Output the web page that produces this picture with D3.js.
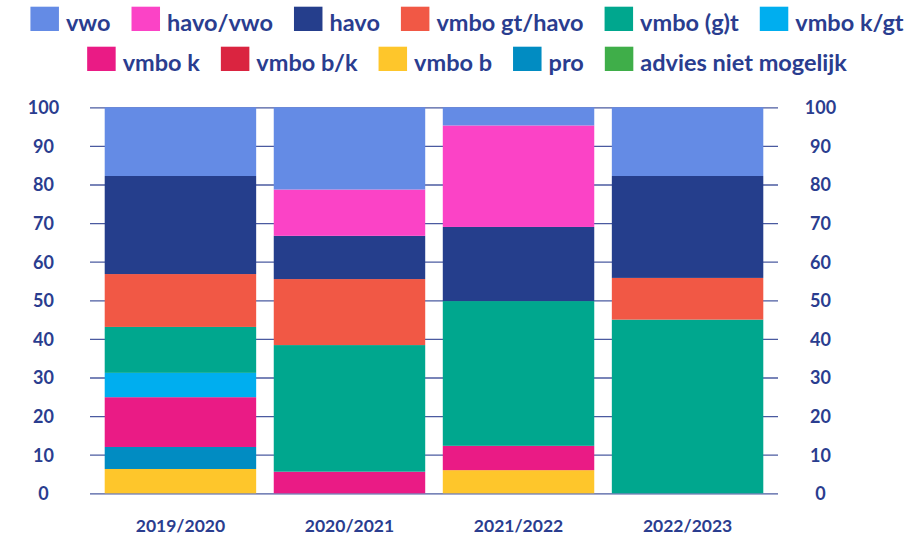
<!DOCTYPE html>
<html>
<head>
<meta charset="utf-8">
<script src="https://cdn.jsdelivr.net/npm/d3@7"></script>
<style>
  html, body { margin: 0; padding: 0; background: #ffffff; }
  svg { display: block; }
  text { font-family: Lato, "Open Sans", sans-serif; font-weight: 700; fill: #2a3d8f; }
</style>
</head>
<body>
<svg id="chart" width="912" height="539"></svg>
<script>
// ---- data ----
const years = ["2019/2020", "2020/2021", "2021/2022", "2022/2023"];
const legendOrder = ["vwo", "havo/vwo", "havo", "vmbo gt/havo", "vmbo (g)t", "vmbo k/gt",
                     "vmbo k", "vmbo b/k", "vmbo b", "pro", "advies niet mogelijk"];
const legendRows = [6, 5]; // items per legend row
const stackOrder = ["advies niet mogelijk", "vmbo b", "pro", "vmbo b/k", "vmbo k", "vmbo k/gt",
                    "vmbo (g)t", "vmbo gt/havo", "havo", "havo/vwo", "vwo"];
const colors = ["#648be5", "#fb43c6", "#253e8c", "#f15845", "#00a78e", "#00aeef",
                "#ea1b85", "#da2440", "#fec62b", "#018cc2", "#3fae49"];
// values per category, one per year
const vwo          = [17.8, 21.3,  4.7, 17.8];
const havoVwo      = [ 0.0, 12.0, 26.3,  0.0];
const havo         = [25.4, 11.2, 19.2, 26.4];
const vmboGtHavo   = [13.7, 17.1,  0.0, 10.8];
const vmboGt       = [11.9, 32.8, 37.5, 45.0];
const vmboKGt      = [ 6.3,  0.0,  0.0,  0.0];
const vmboK        = [12.9,  5.6,  6.3,  0.0];
const vmboBK       = [ 0.0,  0.0,  0.0,  0.0];
const vmboB        = [ 6.3,  0.0,  6.0,  0.0];
const pro          = [ 5.7,  0.0,  0.0,  0.0];
const adviesNiet   = [ 0.0,  0.0,  0.0,  0.0];
const yTicks = [0, 10, 20, 30, 40, 50, 60, 70, 80, 90, 100];

const seriesValues = {
  "vwo": vwo, "havo/vwo": havoVwo, "havo": havo, "vmbo gt/havo": vmboGtHavo,
  "vmbo (g)t": vmboGt, "vmbo k/gt": vmboKGt, "vmbo k": vmboK, "vmbo b/k": vmboBK,
  "vmbo b": vmboB, "pro": pro, "advies niet mogelijk": adviesNiet
};

const table = years.map((yr, i) => {
  const row = { year: yr };
  legendOrder.forEach(k => row[k] = seriesValues[k][i]);
  return row;
});

// ---- layout ----
const svg = d3.select("#chart");
const plotLeft = 90, plotRight = 778, plotTop = 107.3, plotBottom = 493.3;

const x = d3.scaleBand().domain(years).range([plotLeft, plotRight])
  .paddingInner(0.104).paddingOuter(0.087);
const y = d3.scaleLinear().domain([0, 100]).range([plotBottom, plotTop]);
const color = d3.scaleOrdinal().domain(legendOrder).range(colors);

// gridlines with left axis
const gLeft = svg.append("g").attr("transform", `translate(${plotLeft},0)`)
  .call(d3.axisLeft(y).tickValues(yTicks).tickSize(-(plotRight - plotLeft)).tickPadding(0));
gLeft.select(".domain").remove();
gLeft.selectAll(".tick line").attr("stroke", "#2a3d8f").attr("stroke-width", 1.3).attr("opacity", 0.85);
gLeft.selectAll(".tick text").attr("x", 43.5 - plotLeft).attr("text-anchor", "middle")
  .attr("dy", "0.35em").style("font-size", "18px").attr("fill", "#2a3d8f")
  .style("font-family", "Lato, sans-serif").style("font-weight", 700);

const gRight = svg.append("g").attr("transform", `translate(${plotRight},0)`)
  .call(d3.axisRight(y).tickValues(yTicks).tickSize(0).tickPadding(0));
gRight.select(".domain").remove();
gRight.selectAll(".tick text").attr("x", 820.5 - plotRight).attr("text-anchor", "middle")
  .attr("dy", "0.35em").style("font-size", "18px").attr("fill", "#2a3d8f")
  .style("font-family", "Lato, sans-serif").style("font-weight", 700);

// bars
const stacked = d3.stack().keys(stackOrder)(table);
svg.append("g").selectAll("g").data(stacked).join("g")
  .attr("fill", d => color(d.key))
  .selectAll("rect").data(d => d).join("rect")
  .attr("x", d => x(d.data.year))
  .attr("width", x.bandwidth())
  .attr("y", d => y(d[1]))
  .attr("height", d => Math.max(0, y(d[0]) - y(d[1])));

// x axis labels
const gX = svg.append("g").attr("transform", `translate(0,${plotBottom})`)
  .call(d3.axisBottom(x).tickSize(0).tickPadding(0));
gX.select(".domain").remove();
gX.selectAll(".tick text").attr("y", 32.5).attr("dy", "0.35em")
  .style("font-size", "17.5px").attr("fill", "#2a3d8f")
  .style("font-family", "Lato, sans-serif").style("font-weight", 700);

// legend
const legend = svg.append("g");
const rowsItems = [legendOrder.slice(0, legendRows[0]), legendOrder.slice(legendRows[0])];
const rowY = [6.7, 46.7];
const sw = 28.5, sh = 24.3, textGap = 7, itemGap = 21, legendCenter = 467;
rowsItems.forEach((items, r) => {
  const g = legend.append("g");
  let cx = 0;
  items.forEach(k => {
    const it = g.append("g").attr("transform", `translate(${cx},0)`);
    it.append("rect").attr("x", 0).attr("y", rowY[r]).attr("width", sw).attr("height", sh)
      .attr("fill", color(k));
    const t = it.append("text").attr("x", sw + textGap).attr("y", rowY[r] + sh - 0.5)
      .style("font-size", "23.5px").text(k);
    cx += sw + textGap + t.node().getComputedTextLength() + itemGap;
  });
  const total = cx - itemGap;
  g.attr("transform", `translate(${legendCenter - total / 2},0)`);
});
</script>
</body>
</html>
